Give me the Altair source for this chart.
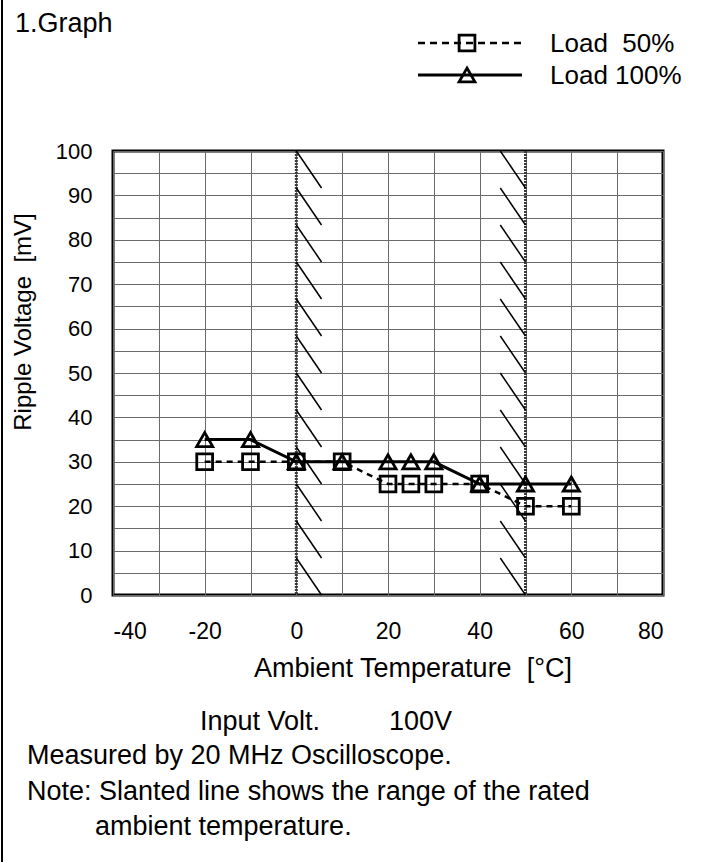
import altair as alt
import pandas as pd

# ---- data ----
temps = [-20, -10, 0, 10, 20, 25, 30, 40, 50, 60]
load50 = [30, 30, 30, 30, 25, 25, 25, 25, 20, 20]
load100 = [35, 35, 30, 30, 30, 30, 30, 25, 25, 25]

x_ticks = [-40, -30, -20, -10, 0, 10, 20, 30, 40, 50, 60, 70, 80]
y_ticks = [0, 5, 10, 15, 20, 25, 30, 35, 40, 45, 50, 55, 60, 65, 70, 75, 80, 85, 90, 95, 100]

rated_lines = [0, 50]
hatch_tops = [100, 91.67, 83.33, 75, 66.67, 58.33, 50, 41.67, 33.33, 25, 16.67, 8.33]
hatch_step = 8.33
hatch_dx = 5.5

FONT = "Liberation Sans"
FS = 27
W, H = 550, 444
LEFT, TOP = 113, 151

xs = alt.Scale(domain=[-40, 80], nice=False, zero=False)
ys = alt.Scale(domain=[0, 100], nice=False, zero=False)
xax = alt.Axis(values=x_ticks, labelExpr="datum.value % 20 == 0 ? '' + datum.value : ''",
               grid=True, gridColor="#6a6a6a", gridWidth=1, ticks=False, domain=False,
               labelFont=FONT, labelFontSize=23, labelColor="black", labelPadding=25, title=None)
yax = alt.Axis(values=y_ticks, labelExpr="datum.value % 10 == 0 ? '' + datum.value : ''",
               grid=True, gridColor="#6a6a6a", gridWidth=1, ticks=False, domain=False,
               labelFont=FONT, labelFontSize=22, labelColor="black", labelPadding=21, title=None)


def X(f):
    return alt.X(f, type="quantitative", scale=xs, axis=xax)


def Y(f):
    return alt.Y(f, type="quantitative", scale=ys, axis=yax)


df50 = pd.DataFrame({"t": temps, "v": load50})
df100 = pd.DataFrame({"t": temps, "v": load100})

rows = []
for xl in rated_lines:
    for top in hatch_tops:
        if xl == 0:
            rows.append({"x1": xl, "x2": xl + hatch_dx, "y1": top, "y2": top - hatch_step})
        else:
            rows.append({"x1": xl - hatch_dx, "x2": xl, "y1": top, "y2": top - hatch_step})
hatch_df = pd.DataFrame(rows)

rated = alt.Chart(pd.DataFrame({"x": rated_lines})).mark_rule(
    color="#3a3a3a", strokeWidth=3, strokeDash=[2, 1]).encode(x=X("x"))

hatch = alt.Chart(hatch_df).mark_rule(color="black", strokeWidth=1.5).encode(
    x=X("x1"), x2="x2", y=Y("y1"), y2="y2")

line50 = alt.Chart(df50).mark_line(color="black", strokeWidth=2.5, strokeDash=[6, 5]).encode(
    x=X("t"), y=Y("v"))
pts50 = alt.Chart(df50).mark_point(shape="square", filled=False, size=250, strokeWidth=2.8,
                                   color="black", opacity=1).encode(x=X("t"), y=Y("v"))
line100 = alt.Chart(df100).mark_line(color="black", strokeWidth=3).encode(x=X("t"), y=Y("v"))
pts100 = alt.Chart(df100).mark_point(shape="triangle-up", filled=False, size=260, strokeWidth=2.8,
                                     color="black", opacity=1).encode(x=X("t"), y=Y("v"))

one = alt.Data(values=[{"a": 1}])


def txt(s, ax, ay, size=FS, align="left", angle=0):
    kw = dict(align=align, baseline="alphabetic", font=FONT, fontSize=size, color="black")
    if angle:
        kw["angle"] = angle
        kw["baseline"] = "middle"
    return alt.Chart(one).mark_text(**kw).encode(
        x=alt.value(ax - LEFT), y=alt.value(ay - TOP), text=alt.value(s))


def hrule(x1, x2, yy, width, dash=None):
    kw = dict(color="black", strokeWidth=width)
    if dash:
        kw["strokeDash"] = dash
    return alt.Chart(one).mark_rule(**kw).encode(
        x=alt.value(x1 - LEFT), x2=alt.value(x2 - LEFT), y=alt.value(yy - TOP))


def marker(shape, ax, ay):
    return alt.Chart(one).mark_point(shape=shape, filled=False, size=250, strokeWidth=2.8,
                                     color="black", opacity=1).encode(
        x=alt.value(ax - LEFT), y=alt.value(ay - TOP))


border = alt.Chart(one).mark_rule(color="black", strokeWidth=2).encode(
    x=alt.value(2 - LEFT), y=alt.value(0 - TOP), y2=alt.value(862 - TOP))

layers = [
    rated, hatch, line50, line100, pts50, pts100,
    border,
    txt("1.Graph", 15, 32),
    hrule(418, 522, 43, 2.5, [7, 5]), marker("square", 467, 43), txt("Load\u00a0 50%", 550, 52, size=26),
    hrule(418, 522, 75, 3), marker("triangle-up", 467, 75), txt("Load 100%", 550, 84, size=26),
    txt("Ripple Voltage\u00a0 [mV]", 24, 322, size=24, angle=270, align="center"),
    txt("Ambient Temperature\u00a0 [°C]", 254, 677),
    txt("Input Volt.", 200, 730),
    txt("100V", 389, 730),
    txt("Measured by 20 MHz Oscilloscope.", 27, 764),
    txt("Note: Slanted line shows the range of the rated", 27, 800),
    txt("ambient temperature.", 95, 835),
]

chart = alt.layer(*layers).properties(
    width=W, height=H,
    padding={"left": LEFT, "top": TOP, "right": 708 - LEFT - W, "bottom": 862 - TOP - H},
    autosize=alt.AutoSizeParams(type="none"),
    background="white",
).configure_view(stroke="black", strokeWidth=3)

chart.save("out.html", embed_options={"renderer": "svg", "actions": False})
